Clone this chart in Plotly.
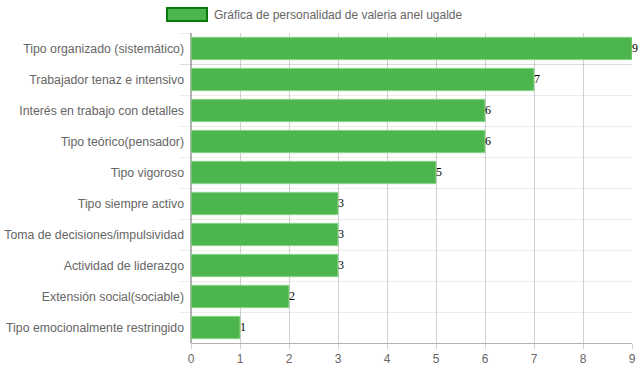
import plotly.graph_objects as go

categories = [
    "Tipo organizado (sistemático)",
    "Trabajador tenaz e intensivo",
    "Interés en trabajo con detalles",
    "Tipo teórico(pensador)",
    "Tipo vigoroso",
    "Tipo siempre activo",
    "Toma de decisiones/impulsividad",
    "Actividad de liderazgo",
    "Extensión social(sociable)",
    "Tipo emocionalmente restringido",
]
values = [9, 7, 6, 6, 5, 3, 3, 3, 2, 1]
series_name = "Gráfica de personalidad de valeria anel ugalde"
x_ticks = list(range(0, 10))

PLOT_H = 372 - 33 - 29

fig = go.Figure()
fig.add_trace(go.Bar(
    x=values, y=categories, orientation="h",
    name=series_name,
    marker=dict(color="#4db54d", line=dict(color="#8fd48f", width=1)),
    width=0.72,
    showlegend=False,
    hoverinfo="x+y",
))
fig.add_trace(go.Scatter(
    x=values, y=categories, mode="text",
    text=[str(v) for v in values],
    textposition="middle right",
    textfont=dict(family="Liberation Serif", size=12, color="#000"),
    cliponaxis=False,
    showlegend=False,
    hoverinfo="skip",
))

fig.update_layout(
    width=639, height=372,
    margin=dict(l=191, r=7, t=33, b=29, autoexpand=False),
    paper_bgcolor="white", plot_bgcolor="white",
    font=dict(family="Liberation Sans", size=12, color="#666"),
    xaxis=dict(
        range=[0, 9], tickvals=x_ticks, showgrid=True, automargin=False,
        gridcolor="rgba(0,0,0,0.18)", gridwidth=1,
        showline=True, linecolor="rgba(0,0,0,0.3)",
        ticks="outside", ticklen=5, tickcolor="rgba(0,0,0,0.18)",
        layer="above traces", zeroline=True, zerolinecolor="rgba(0,0,0,0.3)",
        tickfont=dict(size=12, color="#666"),
    ),
    yaxis=dict(
        autorange="reversed", tickson="boundaries", showgrid=True, automargin=False,
        gridcolor="rgba(0,0,0,0.07)", ticks="outside", ticklen=10,
        tickcolor="rgba(0,0,0,0.07)", showline=False,
        ticklabelstandoff=6,
        tickfont=dict(size=12.3, color="#666"),
    ),
    shapes=[dict(
        type="rect", xref="paper", yref="paper",
        x0=-24 / 441, x1=16 / 441, y0=1 + 12 / PLOT_H, y1=1 + 25 / PLOT_H,
        fillcolor="#4db54d", line=dict(color="#0b7a0b", width=2),
    )],
    annotations=[dict(
        text=series_name, xref="paper", yref="paper",
        x=21 / 441, y=1 + 18.5 / PLOT_H, xanchor="left", yanchor="middle",
        showarrow=False, font=dict(size=12, color="#666"),
    )],
)

fig.write_html("out.html", config={"displayModeBar": False},
               post_script="document.body.style.margin='0';")
